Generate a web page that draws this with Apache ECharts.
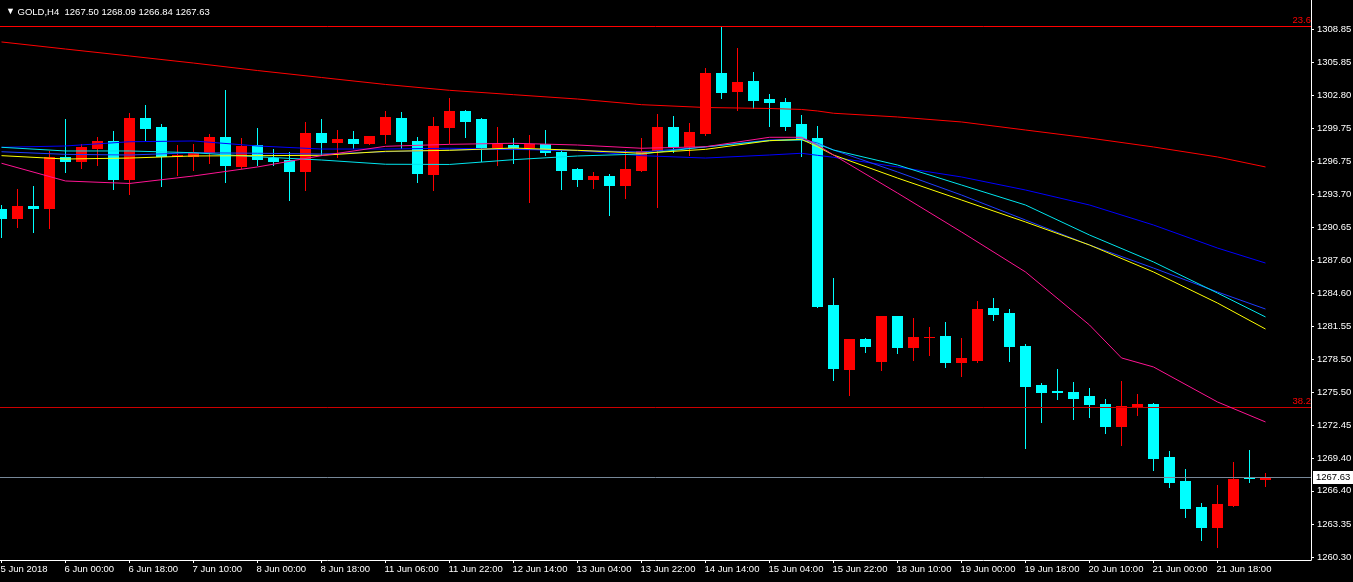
<!DOCTYPE html>
<html><head><meta charset="utf-8">
<script src="https://cdn.jsdelivr.net/npm/echarts@6/dist/echarts.min.js"></script>
<style>html,body{margin:0;padding:0;background:#000;}#c{width:1353px;height:582px;}</style>
</head><body><div id="c"></div>
<script>
const symbolName = 'GOLD,H4';
const tickLabels = ['5 Jun 2018','6 Jun 00:00','6 Jun 18:00','7 Jun 10:00','8 Jun 00:00','8 Jun 18:00','11 Jun 06:00','11 Jun 22:00','12 Jun 14:00','13 Jun 04:00','13 Jun 22:00','14 Jun 14:00','15 Jun 04:00','15 Jun 22:00','18 Jun 10:00','19 Jun 00:00','19 Jun 18:00','20 Jun 10:00','21 Jun 00:00','21 Jun 18:00'];
const priceTicks = [1308.85,1305.85,1302.80,1299.75,1296.75,1293.70,1290.65,1287.60,1284.60,1281.55,1278.50,1275.50,1272.45,1269.40,1266.40,1263.35,1260.30];

const openP = [1292.33,1291.53,1292.61,1292.45,1297.12,1296.78,1297.97,1298.59,1295.09,1300.70,1299.88,1297.21,1297.21,1297.58,1298.96,1296.29,1298.22,1297.02,1296.84,1295.83,1299.32,1298.50,1298.77,1298.40,1299.23,1300.70,1298.59,1295.55,1299.88,1301.35,1300.61,1298.04,1298.22,1298.04,1298.31,1297.58,1296.01,1295.09,1295.37,1294.54,1295.92,1297.76,1299.88,1298.13,1299.32,1304.84,1303.19,1304.11,1302.45,1302.18,1300.15,1298.86,1283.50,1277.61,1280.37,1278.35,1282.49,1279.64,1280.53,1280.65,1278.26,1278.44,1283.22,1282.76,1279.73,1276.14,1275.59,1275.50,1275.13,1274.39,1272.37,1274.12,1274.39,1269.52,1267.31,1264.92,1263.08,1265.10,1267.58,1267.50];
const highP = [1292.70,1294.17,1294.45,1297.67,1300.61,1298.31,1298.96,1299.51,1301.16,1301.90,1300.15,1298.22,1298.31,1299.23,1303.28,1298.86,1299.78,1297.85,1297.58,1300.34,1300.61,1299.60,1299.51,1299.05,1301.35,1301.26,1298.96,1300.80,1302.54,1301.44,1300.70,1299.88,1298.86,1299.14,1299.60,1297.76,1296.10,1295.74,1295.55,1297.76,1298.86,1301.07,1300.89,1300.24,1305.30,1309.08,1307.14,1304.94,1302.91,1302.54,1300.98,1299.97,1285.98,1280.37,1280.46,1282.49,1282.49,1282.30,1281.48,1281.94,1280.46,1283.87,1284.14,1283.13,1279.91,1276.32,1277.61,1276.42,1275.86,1274.85,1276.51,1275.31,1274.48,1270.07,1268.41,1265.28,1266.94,1269.06,1270.16,1268.09];
const lowP = [1289.78,1290.70,1290.24,1290.61,1295.76,1296.10,1296.38,1294.17,1293.74,1298.68,1294.45,1295.46,1295.92,1296.56,1294.82,1296.08,1296.38,1296.38,1293.16,1294.08,1297.30,1297.12,1297.94,1298.31,1298.40,1297.94,1294.82,1294.08,1298.40,1298.96,1296.75,1296.38,1296.56,1292.98,1297.30,1294.17,1294.45,1294.26,1291.78,1293.34,1295.83,1292.52,1297.58,1297.30,1299.14,1302.54,1301.44,1301.62,1299.97,1299.60,1297.21,1283.35,1276.60,1275.22,1279.18,1277.52,1279.08,1278.44,1278.90,1277.80,1276.97,1278.26,1282.12,1278.35,1270.34,1272.74,1274.85,1273.01,1273.20,1271.72,1270.62,1273.38,1268.32,1266.76,1264.00,1261.88,1261.24,1265.05,1267.22,1266.84];
const closeP = [1291.53,1292.61,1292.45,1297.12,1296.78,1298.04,1298.59,1295.09,1300.70,1299.81,1297.21,1297.30,1297.46,1298.96,1296.38,1298.13,1296.93,1296.75,1295.83,1299.32,1298.50,1298.77,1298.40,1299.05,1300.80,1298.59,1295.64,1299.97,1301.35,1300.43,1298.04,1298.31,1298.04,1298.31,1297.58,1295.92,1295.09,1295.37,1294.54,1296.01,1297.67,1299.88,1298.13,1299.42,1304.84,1303.10,1304.02,1302.36,1302.18,1299.97,1298.86,1283.41,1277.70,1280.37,1279.73,1282.49,1279.64,1280.56,1280.56,1278.26,1278.62,1283.13,1282.67,1279.73,1276.05,1275.50,1275.54,1274.94,1274.39,1272.37,1274.21,1274.39,1269.42,1267.22,1264.82,1263.08,1265.19,1267.49,1267.57,1267.63];

// moving averages: [bar index, value]
const maRed = [[0,1307.70],[4,1307.05],[8,1306.41],[12,1305.76],[16,1305.07],[20,1304.43],[24,1303.79],[28,1303.25],[32,1302.85],[36,1302.45],[40,1301.93],[44,1301.67],[48,1301.58],[50,1301.49],[51,1301.35],[52,1301.14],[56,1300.80],[60,1300.34],[64,1299.60],[68,1298.86],[72,1298.04],[76,1297.12],[79,1296.20]];
const maBlueSlow = [[0,1298.01],[4,1298.13],[8,1298.52],[12,1298.59],[16,1298.13],[20,1297.85],[24,1297.85],[28,1297.92],[32,1297.82],[36,1297.70],[40,1297.24],[44,1297.02],[48,1297.30],[50,1297.46],[51,1297.27],[52,1297.09],[56,1296.20],[60,1295.28],[64,1294.08],[68,1292.70],[72,1290.86],[76,1288.74],[79,1287.36]];
const maBlue = [[0,1297.60],[4,1297.36],[8,1297.30],[12,1297.51],[16,1297.46],[20,1297.39],[24,1297.60],[28,1297.76],[32,1297.85],[36,1297.71],[40,1297.58],[44,1298.04],[48,1298.68],[50,1298.77],[51,1298.40],[52,1297.76],[56,1295.74],[60,1293.62],[64,1291.32],[68,1289.02],[72,1286.90],[76,1284.70],[79,1283.13]];
const maAqua = [[0,1298.01],[4,1297.67],[8,1297.67],[12,1297.51],[16,1297.14],[20,1296.84],[24,1296.45],[28,1296.43],[32,1296.87],[36,1297.21],[40,1297.39],[44,1298.06],[48,1298.62],[50,1298.68],[51,1298.31],[52,1297.76],[56,1296.38],[60,1294.54],[64,1292.70],[68,1289.94],[72,1287.46],[76,1284.60],[79,1282.40]];
const maYellow = [[0,1297.24],[4,1296.93],[8,1297.02],[12,1297.21],[16,1297.24],[20,1297.27],[24,1297.64],[28,1297.73],[32,1297.94],[36,1297.73],[40,1297.46],[44,1297.82],[48,1298.62],[50,1298.74],[51,1298.06],[52,1297.30],[56,1295.18],[60,1293.16],[64,1291.14],[68,1289.02],[72,1286.54],[76,1283.68],[79,1281.29]];
const maPink = [[0,1296.54],[4,1294.91],[8,1294.68],[12,1295.37],[16,1296.20],[20,1297.24],[24,1298.10],[28,1298.28],[32,1298.38],[36,1298.22],[40,1297.92],[44,1298.06],[48,1298.93],[50,1298.93],[51,1298.22],[52,1297.30],[56,1293.80],[60,1290.22],[64,1286.54],[68,1281.66],[70,1278.63],[72,1277.80],[76,1274.58],[79,1272.74]];

const fib236 = 1309.17, fib382 = 1274.09;
const lastPrice = 1267.63;

const UP = '#ff0000', DOWN = '#00ffff';
const FONT = 'Liberation Sans';

const candleData = openP.map((o, i) => [i, o, closeP[i], lowP[i], highP[i]]);

function renderCandle(params, api) {
  const i = api.value(0), o = api.value(1), c = api.value(2), l = api.value(3), h = api.value(4);
  const pO = api.coord([i, o]), pC = api.coord([i, c]), pL = api.coord([i, l]), pH = api.coord([i, h]);
  const bw = Math.round(api.size([1, 0])[0] * 0.69);
  const color = c > o ? UP : DOWN;
  const cx = Math.floor(pO[0]);
  const top = Math.round(Math.min(pO[1], pC[1]));
  const bot = Math.round(Math.max(pO[1], pC[1]));
  const half = Math.floor(bw / 2);
  return {
    type: 'group',
    children: [
      { type: 'rect', shape: { x: cx, y: Math.round(pH[1]), width: 1, height: Math.max(1, Math.round(pL[1]) - Math.round(pH[1]) + 1) }, style: { fill: color } },
      { type: 'rect', shape: { x: cx - half, y: top, width: bw, height: Math.max(1, bot - top + 1) }, style: { fill: color } }
    ]
  };
}

function maSeries(name, data, color) {
  return { name, type: 'line', data, symbol: 'none', z: 5, silent: true,
    lineStyle: { color, width: 1 }, animation: false };
}

const chart = echarts.init(document.getElementById('c'), null, { renderer: 'canvas' });
const last = openP.length - 1;
chart.setOption({
  backgroundColor: '#000000',
  animation: false,
  title: {
    left: 1, top: 2,
    text: '{t|▼} ' + symbolName + '  ' + [openP[last], highP[last], lowP[last], closeP[last]].map(v => v.toFixed(2)).join(' '),
    textStyle: { color: '#ffffff', fontSize: 9.5, fontWeight: 'normal', fontFamily: FONT,
      rich: { t: { fontSize: 9, color: '#ffffff' } } }
  },
  grid: { left: 0, right: 42, top: 0, bottom: 22, containLabel: false, outerBoundsMode: 'none' },
  xAxis: {
    type: 'value', min: -1.5 / 16, max: (1311 - 1.5) / 16,
    splitLine: { show: false },
    axisLine: { onZero: false, lineStyle: { color: '#ffffff', width: 1 } },
    axisTick: { length: 3, lineStyle: { color: '#ffffff' }, customValues: tickLabels.map((t, k) => k * 4) },
    axisLabel: { customValues: tickLabels.map((t, k) => k * 4), formatter: v => tickLabels[Math.round(v / 4)] || '',
      color: '#ffffff', fontSize: 9.5, fontFamily: FONT, align: 'left', margin: 4, padding: [0, 0, 0, -1] }
  },
  yAxis: {
    type: 'value', position: 'right', min: 1260.04, max: 1311.56, scale: true,
    splitLine: { show: false },
    axisLine: { show: true, onZero: false, lineStyle: { color: '#ffffff', width: 1 } },
    axisTick: { show: true, length: 3, lineStyle: { color: '#ffffff' }, customValues: priceTicks },
    axisLabel: { customValues: priceTicks, formatter: v => v.toFixed(2), color: '#ffffff', fontSize: 9.5, fontFamily: FONT, margin: 6 }
  },
  series: [
    { type: 'custom', name: 'candles', data: candleData, renderItem: renderCandle, clip: true, z: 2,
      encode: { x: 0, y: [1, 2, 3, 4] }, silent: true },
    Object.assign(maSeries('ma200', maRed, '#ff0000'), {
      markLine: {
        silent: true, symbol: ['none', 'none'], animation: false,
        data: [
          { yAxis: fib236, lineStyle: { color: '#ff0000', type: 'solid', width: 1 },
            label: { formatter: '23.6', position: 'insideEndTop', color: '#ff0000', fontSize: 9.5, fontFamily: FONT, distance: [0, 1] } },
          { yAxis: fib382, lineStyle: { color: '#cc0000', type: 'solid', width: 1 },
            label: { formatter: '38.2', position: 'insideEndTop', color: '#ff0000', fontSize: 9.5, fontFamily: FONT, distance: [0, 1] } },
          { yAxis: lastPrice, lineStyle: { color: '#778899', type: 'solid', width: 1 },
            label: { formatter: lastPrice.toFixed(2), position: 'end', color: '#000000', backgroundColor: '#ffffff',
              fontSize: 9.5, fontFamily: FONT, padding: [2, 4, 1, 3], distance: 2 } }
        ]
      }
    }),
    maSeries('maSlow', maBlueSlow, '#0000ff'),
    maSeries('maBlue', maBlue, '#1e3cff'),
    maSeries('maAqua', maAqua, '#00e5ee'),
    maSeries('maYellow', maYellow, '#ffff00'),
    maSeries('maPink', maPink, '#ff1493')
  ]
});
</script></body></html>
